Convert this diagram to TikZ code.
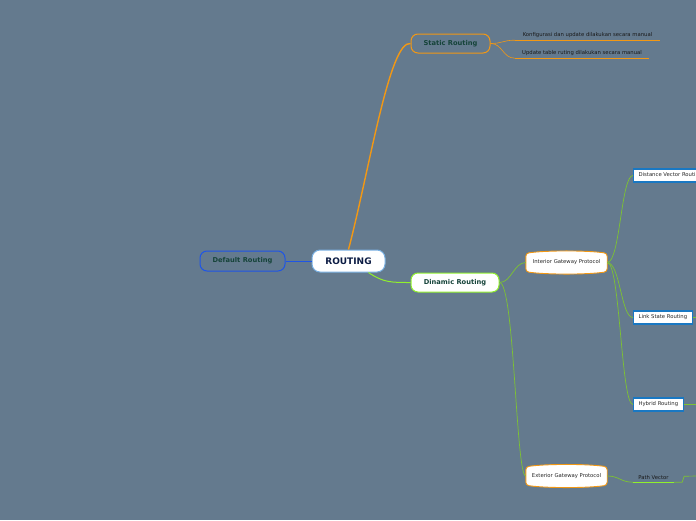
\documentclass[tikz,border=0pt]{standalone}
\usepackage{fontspec}
\setmainfont{DejaVu Sans}
\usetikzlibrary{positioning}
\definecolor{bgslate}{RGB}{100,122,142}
\definecolor{mmorange}{RGB}{242,152,20}
\definecolor{mmgreen}{RGB}{125,195,50}
\definecolor{mmlime}{RGB}{145,240,45}
\definecolor{mmblue}{RGB}{30,85,230}
\definecolor{mmsky}{RGB}{120,175,225}
\definecolor{leafblue}{RGB}{25,120,195}
\definecolor{labteal}{RGB}{22,68,58}
\definecolor{labnavy}{RGB}{12,28,68}
\pgfdeclarelayer{back}
\pgfsetlayers{back,main}
\tikzset{
  topic/.style={rounded corners=7pt, line width=1pt, inner sep=0pt, minimum height=19pt,
    font=\fontsize{6.7}{8}\selectfont\bfseries, text=labteal},
  proto/.style={inner sep=0pt, minimum width=81pt, minimum height=18pt,
    font=\fontsize{5.3}{6}\selectfont, text=black!85},
  leaf/.style={draw=leafblue, fill=white, line width=1.2pt, inner xsep=5pt, inner ysep=0pt,
    minimum height=13pt, anchor=west, font=\fontsize{5.3}{6}\selectfont, text=black!85},
  note/.style={inner sep=0pt, minimum height=10pt, font=\fontsize{5.3}{6}\selectfont, text=black!90},
  branch/.style={mmgreen, line width=0.7pt},
}

\begin{document}
\begin{tikzpicture}[x=1pt,y=-1pt]
\useasboundingbox (0,0) rectangle (696,520);
\clip (0,0) rectangle (696,520);
\begin{pgfonlayer}{back}
\fill[bgslate] (0,0) rectangle (696,520);
\end{pgfonlayer}

\node[topic, draw=mmsky, fill=white, rounded corners=8pt, minimum width=73pt, minimum height=22pt,
  font=\fontsize{9}{10}\selectfont\bfseries, text=labnavy] (routing) at (348.5,261) {ROUTING};
\node[topic, draw=mmblue, minimum width=85pt, minimum height=20pt] (default) at (242.5,261) {Default Routing};
\node[topic, draw=mmorange, minimum width=79pt] (static) at (450.5,43.5) {Static Routing};
\node[topic, draw=mmlime, fill=white, minimum width=88pt] (dinamic) at (455,282.5) {Dinamic Routing};

\node[note, minimum width=145pt] (konf) at (587.5,35) {Konfigurasi dan update dilakukan secara manual};
\node[note, minimum width=134pt] (upd) at (582,53) {Update table ruting dilakukan secara manual};
\draw[mmorange, line width=1.2pt] (konf.south west) -- (konf.south east);
\draw[mmorange, line width=1.2pt] (upd.south west) -- (upd.south east);

\node[proto] (igp) at (566.5,262.5) {Interior Gateway Protocol};
\node[proto] (egp) at (566.5,476) {Exterior Gateway Protocol};
\begin{pgfonlayer}{back}
\foreach \p in {igp,egp}
  \draw[mmorange, fill=white, line width=0.9pt, rounded corners=3pt]
    (\p.north west) .. controls +(20,-3) and +(-20,-3) .. (\p.north east) -- (\p.south east)
    .. controls +(-20,3) and +(20,3) .. (\p.south west) -- cycle;
\end{pgfonlayer}

\node[leaf] (dvr) at (633,175.5) {Distance Vector Routing};
\node[leaf] (lsr) at (633,317.5) {Link State Routing};
\node[leaf] (hyb) at (633,404.5) {Hybrid Routing};
\node[note, minimum width=41pt, minimum height=9pt] (pathv) at (653.5,477.5) {Path Vector};
\draw[mmlime, line width=1.3pt] (pathv.south west) -- (pathv.south east);

\coordinate (lsrout) at (700,317.5);
\coordinate (hybout) at (700,404.5);
\coordinate (pvout) at (700,476);

\draw[mmorange, line width=1.4pt] (routing.north) .. controls +(21,-80) and +(-21,-3.5) .. (static.west);
\draw[mmblue, line width=1pt] (routing.west) -- (default.east);
\draw[mmlime, line width=1pt] (routing.-30) .. controls +(15,10) and +(-20,0) .. (dinamic.west);

\draw[mmorange, line width=0.6pt] (static.east) .. controls +(12,0) and +(-12,0) .. (konf.south west);
\draw[mmorange, line width=0.6pt] (static.east) .. controls +(12,0) and +(-12,0) .. (upd.south west);

\draw[branch] (dinamic.east) .. controls +(12,0) and +(-12,0) .. (igp.west);
\draw[branch] (dinamic.east) .. controls +(15,0) and +(-10,0) .. (egp.west);

\draw[branch] (igp.east) .. controls +(13,0) and +(-12,0) .. (dvr.west);
\draw[branch] (igp.east) .. controls +(13,0) and +(-12,0) .. (lsr.west);
\draw[branch] (igp.east) .. controls +(13,0) and +(-12,0) .. (hyb.west);
\draw[branch] (egp.east) .. controls +(12,0) and +(-12,0) .. (pathv.south west);

\draw[branch] (lsr.east) -- (lsrout);
\draw[branch] (hyb.east) -- (hybout);
\draw[branch] (pathv.south east) -- ++(8,0) -- ++(2,-6) -- (pvout);
\end{tikzpicture}
\end{document}
